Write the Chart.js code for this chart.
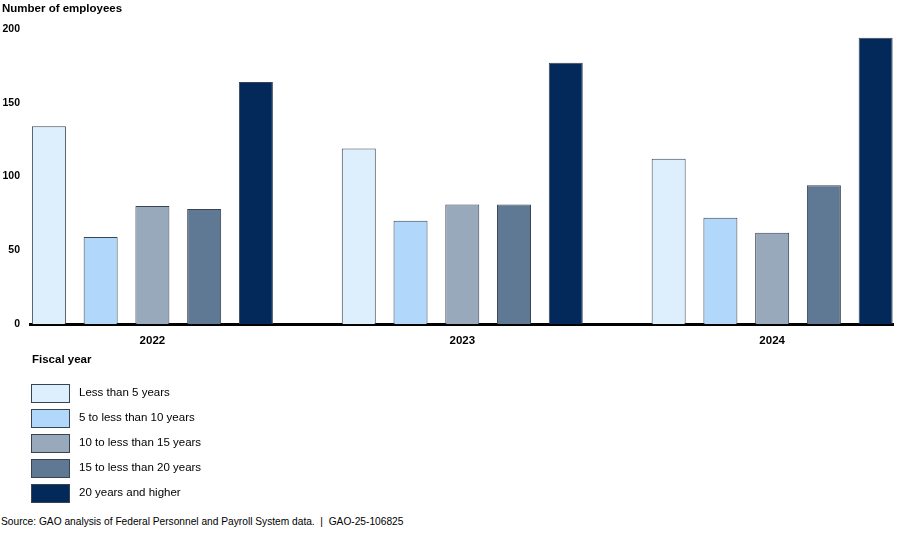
<!DOCTYPE html>
<html>
<head>
<meta charset="utf-8">
<script src="https://cdn.jsdelivr.net/npm/chart.js@4/dist/chart.umd.min.js"></script>
<style>
  body { margin: 0; background: #fff; font-family: "Liberation Sans", Arial, sans-serif; color: #000; }
  #wrap { position: relative; width: 900px; height: 533px; }
  #chartBox { position: absolute; left: 0; top: 0; width: 900px; height: 358px; }
  #legendTitle { position: absolute; left: 32px; top: 353px; font-size: 11.5px; font-weight: bold; }
  #legend { position: absolute; left: 31px; top: 384px; }
  .item { height: 25px; position: relative; }
  .box { position: absolute; left: 0; top: 0; width: 37px; height: 17px; border: 1px solid #3a4450; }
  .lab { position: absolute; left: 48px; top: 2px; font-size: 11.5px; white-space: nowrap; }
  #source { position: absolute; left: 1px; top: 516px; font-size: 10.2px; white-space: nowrap; }
</style>
</head>
<body>
<div id="wrap">
  <div id="chartBox"><canvas id="barChart"></canvas></div>
  <div id="legendTitle">Fiscal year</div>
  <div id="legend"></div>
  <div id="source">Source: GAO analysis of Federal Personnel and Payroll System data.&nbsp; |&nbsp; GAO-25-106825</div>
</div>
<script>
const years = ["2022", "2023", "2024"]
const groups = ["Less than 5 years", "5 to less than 10 years", "10 to less than 15 years", "15 to less than 20 years", "20 years and higher"]
const lessThan5 = [134, 119, 112]
const from5to10 = [59, 70, 72]
const from10to15 = [80, 81, 62]
const from15to20 = [78, 81, 94]
const over20 = [164, 177, 194]
const yTicks = [0, 50, 100, 150, 200]

const fills = ["#ddeefd", "#b1d7fb", "#98a9bc", "#5f7893", "#02295a"]
const series = [lessThan5, from5to10, from10to15, from15to20, over20]

const datasets = series.map(function (vals, i) {
    return {
        label: groups[i],
        data: vals.map((v, j) => ({ x: j, y: v })),
        backgroundColor: fills[i],
        borderColor: "#3a4450",
        borderWidth: 1,
        categoryPercentage: 0.835,
        barPercentage: 0.657
    }
})

Chart.defaults.font.family = '"Liberation Sans", Arial, sans-serif'
Chart.defaults.color = "#000"

const barChart = new Chart(document.getElementById("barChart"), {
    type: "bar",
    data: { datasets: datasets },
    options: {
        responsive: true,
        maintainAspectRatio: false,
        animation: false,
        layout: { padding: { left: 2, right: 7, top: 0, bottom: 0 } },
        plugins: {
            legend: { display: false },
            tooltip: { enabled: false },
            title: {
                display: true,
                text: "Number of employees",
                align: "start",
                font: { size: 11.5, weight: "bold" },
                padding: { top: 2, bottom: 13 }
            }
        },
        scales: {
            x: {
                type: "linear",
                offset: false,
                min: -0.395,
                max: 2.39,
                grid: { display: false, drawTicks: false, offset: false },
                border: { display: true, color: "#000", width: 3 },
                afterBuildTicks: function (axis) {
                    axis.ticks = years.map((y, i) => ({ value: i }))
                },
                ticks: {
                    font: { size: 11.5, weight: "bold" },
                    padding: 10,
                    callback: function (v) { return years[v] }
                }
            },
            y: {
                min: 0,
                max: 200,
                grid: { display: false, drawTicks: false },
                border: { display: false },
                afterBuildTicks: function (axis) {
                    axis.ticks = yTicks.map(v => ({ value: v }))
                },
                afterFit: function (axis) {
                    axis.width = 28
                },
                ticks: {
                    font: { size: 10.5, weight: "bold" },
                    padding: 10
                }
            }
        }
    }
})

const legend = document.getElementById("legend")
groups.forEach(function (g, i) {
    legend.innerHTML += `<div class="item"><div class="box" style="background:${fills[i]}"></div><div class="lab">${g}</div></div>`
})
</script>
</body>
</html>
